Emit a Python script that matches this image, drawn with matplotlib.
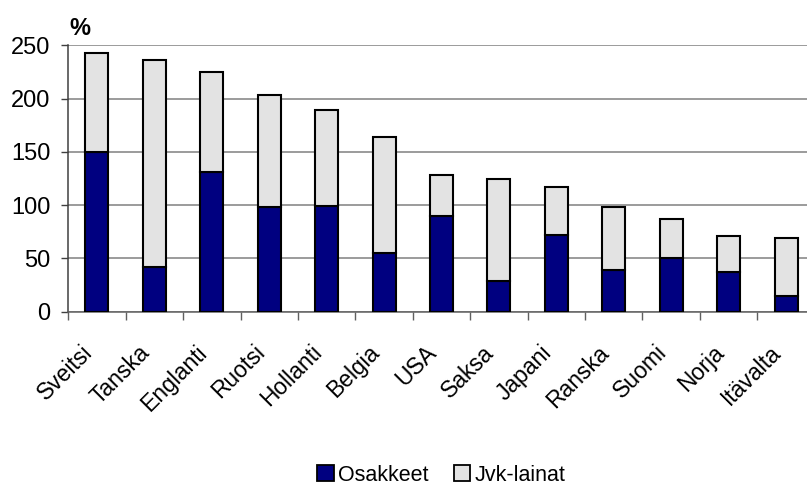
import numpy as np
import matplotlib.pyplot as plt
from matplotlib.patches import Patch

countries = ["Sveitsi", "Tanska", "Englanti", "Ruotsi", "Hollanti", "Belgia", "USA",
             "Saksa", "Japani", "Ranska", "Suomi", "Norja", "Itävalta"]
osakkeet = [150, 42, 131, 98, 99, 55, 90, 29, 72, 39, 50, 37, 15]
yhteensa = [243, 236, 225, 203, 189, 164, 128, 125, 117, 98, 87, 71, 69]
jvk_lainat = [t - o for t, o in zip(yhteensa, osakkeet)]

plt.rcParams["font.family"] = ["Liberation Sans", "DejaVu Sans"]

fig = plt.figure(figsize=(8.07, 4.86), dpi=100)
ax = fig.add_axes([0.0846, 0.3586, 0.925, 0.548])

x = np.arange(len(countries))
ax.bar(x, osakkeet, width=0.4, color="#000080", edgecolor="black", linewidth=1.5, zorder=3)
ax.bar(x, jvk_lainat, width=0.4, bottom=osakkeet, color="#e3e3e3",
       edgecolor="black", linewidth=1.5, zorder=3)

ax.set_xlim(-0.5, len(countries) - 0.5)
ax.set_ylim(0, 250)
ax.set_yticks(np.arange(0, 251, 50))
ax.yaxis.grid(True, color="#808080", linewidth=1.1, zorder=0)
ax.set_axisbelow(True)

for side in ["top", "right"]:
    ax.spines[side].set_visible(False)
ax.spines["left"].set_color("#404040")
ax.spines["bottom"].set_color("#606060")
ax.spines["left"].set_linewidth(1.1)
ax.spines["bottom"].set_linewidth(1.1)

# category labels at centres, tick marks at the boundaries
ax.set_xticks(x)
ax.set_xticklabels(countries, rotation=45, ha="right", fontsize=16.5)
ax.tick_params(axis="x", which="major", length=0, pad=21)
ax.set_xticks(np.arange(-0.5, len(countries), 1), minor=True)
ax.tick_params(axis="x", which="minor", length=5.5, width=1, color="#606060", direction="out")
ax.tick_params(axis="y", length=5, width=1, color="#404040", pad=8, labelsize=17)

ax.text(0.002, 1.039, "%", transform=ax.transAxes, fontsize=17, fontweight="bold",
        ha="left", va="baseline")

handles = [Patch(facecolor="#000080", edgecolor="black", linewidth=1.3, label="Osakkeet"),
           Patch(facecolor="#e3e3e3", edgecolor="black", linewidth=1.3, label="Jvk-lainat")]
fig.legend(handles=handles, loc="center", bbox_to_anchor=(0.547, 0.022), ncol=2,
           frameon=False, fontsize=15.5, handlelength=0.75, handleheight=0.75,
           handletextpad=0.2, columnspacing=1.2, borderaxespad=0)

fig.savefig("out.png", dpi=100)
